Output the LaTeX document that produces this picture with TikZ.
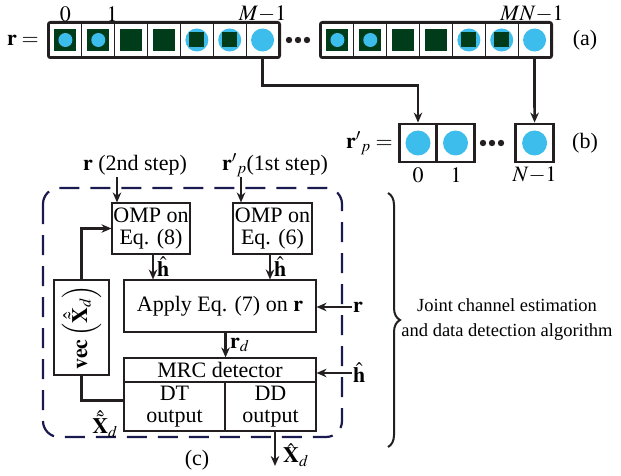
\documentclass[tikz,border=0pt]{standalone}
\usepackage{mathptmx}
\usepackage{fontspec}
\setmainfont{Liberation Serif}
\usetikzlibrary{arrows.meta,decorations.pathreplacing}
\definecolor{dgreen}{RGB}{0,60,26}
\definecolor{sky}{RGB}{61,189,236}
\definecolor{navy}{RGB}{26,26,80}
\definecolor{ink}{RGB}{35,31,32}
\tikzset{
 cell/.style={draw=ink, line width=1.2pt, minimum width=32.857pt, minimum height=34pt, inner sep=0pt, fill=white},
 bcell/.style={draw=ink, line width=2.8pt, minimum width=37.5pt, minimum height=38pt, inner sep=0pt},
 box/.style={draw=ink, line width=1.1pt, inner sep=0pt, align=center},
 arr/.style={draw=ink, line width=2.7pt, -{Stealth[length=10pt,width=8.5pt]}},
 conn/.style={draw=ink, line width=2.7pt},
 lab/.style={inner sep=1pt},
}
\begin{document}
\begin{tikzpicture}[x=1pt,y=-1pt,font=\fontsize{22}{22}\selectfont]
\useasboundingbox (0,0) rectangle (621,476);
% ---- top row (a)
\foreach \g/\xo in {a/49,c/321}{
  \foreach \i in {1,...,7}{
    \node[cell] (\g\i) at ({\xo+(\i-0.5)*32.857},40) {};
  }
  \foreach \i in {1,2}{
    \fill[dgreen] ([shift={(-11,-11)}]\g\i.center) rectangle ([shift={(11,11)}]\g\i.center);
    \fill[sky] (\g\i.center) circle (7pt);
  }
  \foreach \i in {3,4}{
    \fill[dgreen] ([shift={(-11,-11)}]\g\i.center) rectangle ([shift={(11,11)}]\g\i.center);
  }
  \foreach \i in {5,6}{
    \fill[sky] (\g\i.center) circle (11.5pt);
    \fill[dgreen] ([shift={(-7.5,-7.5)}]\g\i.center) rectangle ([shift={(7.5,7.5)}]\g\i.center);
  }
  \fill[sky] (\g7.center) circle (11.5pt);
  \draw[ink, line width=2.8pt, rounded corners=2pt] (\g1.north west) rectangle (\g7.south east);
}
\foreach \x in {289,298,307}{\fill[ink] (\x,40) circle (3.2pt);}
\node[anchor=east, lab] (rl) at (40,40) {$\mathbf{r}=$};
\node (l0) at (65.4,14) {$0$};
\node (l1) at (112,14) {$1$};
\node (lM) at (262.6,14) {$M{-}1$};
\node (lMN) at (532,14) {$MN{-}1$};
\node (la) at (585,40) {(a)};
% ---- row (b)
\node[bcell] (b1) at (418,143) {};
\node[bcell] (b2) at (455.5,143) {};
\node[bcell] (b3) at (534.6,143) {};
\foreach \n in {b1,b2,b3}{\fill[sky] (\n.center) circle (12.5pt);}
\foreach \x in {483,492,501}{\fill[ink] (\x,143) circle (3.2pt);}
\node[anchor=east, lab] (rp) at (394,143) {${\mathbf{r}'}_{p}=$};
\node (lb) at (585,143) {(b)};
\node (m0) at (418,175) {$0$};
\node (m1) at (456,175) {$1$};
\node (mN) at (534.6,175) {$N{-}1$};
\draw[arr] (a7.south) -- ++(0,28) -| (b1.north);
\draw[arr] (c7.south) -- (b3.north);
% ---- part (c)
\draw[navy, line width=2.2pt, dash pattern=on 20pt off 11pt, rounded corners=16pt] (43,188) rectangle (342,437);
\node[box, minimum width=78pt, minimum height=51pt] (omp8) at (151,228.5) {OMP on\\Eq. (8)};
\node[box, minimum width=79pt, minimum height=51pt] (omp6) at (272.5,228.5) {OMP on\\Eq. (6)};
\node[box, minimum width=192pt, minimum height=52pt] (apply) at (220,306) {Apply Eq. (7) on $\mathbf{r}$};
\node[box, minimum width=55pt, minimum height=95pt] (vec) at (81.5,327.5) {};
\node[rotate=90, lab] (vect) at (vec.center) {$\mathbf{vec}\left(\hat{\tilde{\mathbf{X}}}_d\right)$};
\node[box, minimum width=192pt, minimum height=24pt] (mrc) at (220,370) {MRC detector};
\node[box, minimum width=101pt, minimum height=49pt] (dt) at (174.5,406.5) {DT\\output};
\node[box, minimum width=91pt, minimum height=49pt] (dd) at (270.5,406.5) {DD\\output};
\node (s2) at (135,165) {$\mathbf{r}$ (2nd step)};
\node (s1) at (275,165) {${\mathbf{r}'}_{p}$(1st step)};
\coordinate (t8) at (117,177);
\coordinate (t6) at (241,177);
\draw[arr] (t8) -- (t8 |- omp8.north);
\draw[arr] (t6) -- (t6 |- omp6.north);
\coordinate (h8) at (153,0);
\coordinate (h6) at (270,0);
\draw[arr] (omp8.south -| h8) -- (apply.north -| h8);
\draw[arr] (omp6.south -| h6) -- (apply.north -| h6);
\node[anchor=west, lab] (hl8) at (156,267) {$\hat{\mathbf{h}}$};
\node[anchor=west, lab] (hl6) at (273,267) {$\hat{\mathbf{h}}$};
\coordinate (rin) at (352,307);
\draw[arr] (rin) -- (rin -| apply.east);
\node[anchor=west, lab] (rr) at (rin) {$\mathbf{r}$};
\coordinate (hin) at (352,373);
\draw[arr] (hin) -- (hin -| mrc.east);
\node[anchor=west, lab] (hh) at (hin) {$\hat{\mathbf{h}}$};
\draw[arr] (apply.south -| dt.east) -- (mrc.north -| dt.east);
\node[anchor=west, lab] (rd) at (229,345) {$\mathbf{r}_d$};
\draw[arr] (vec.north) |- (omp8.west);
\draw[conn] (vec.south) |- ([yshift=6pt]dt.west);
\node (xt) at (105,424) {$\hat{\tilde{\mathbf{X}}}_d$};
\coordinate (xo) at (275,466);
\draw[arr] (dd.south -| xo) -- (xo);
\node[anchor=west, lab] (xh) at (282,455) {$\hat{\mathbf{X}}_d$};
\node (lc) at (197,460) {(c)};
% brace and text
\draw[ink, line width=2pt, decorate, decoration={brace, amplitude=12pt}] (388,193) -- (388,447);
\node[font=\fontsize{18.5}{25}\selectfont, align=center] (jt) at (507,320) {Joint channel estimation\\and data detection algorithm};
\end{tikzpicture}
\end{document}
